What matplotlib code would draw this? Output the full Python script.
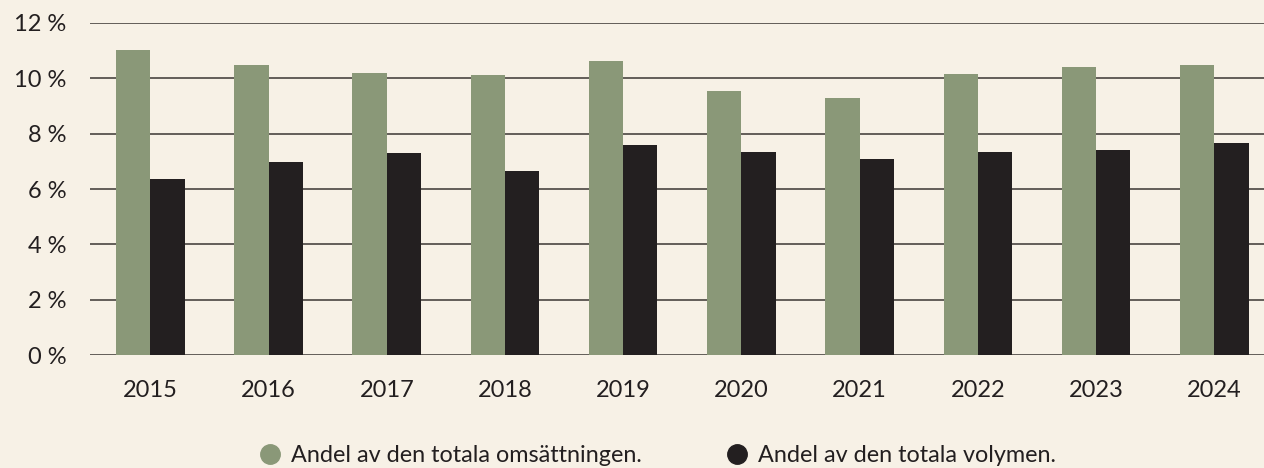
import matplotlib as mpl
mpl.use('Agg')

import numpy as np
import matplotlib.pyplot as plt
from matplotlib.lines import Line2D

# data
years = ['2015', '2016', '2017', '2018', '2019', '2020', '2021', '2022', '2023', '2024']
omsattning = [11.02, 10.48, 10.19, 10.12, 10.63, 9.54, 9.29, 10.16, 10.41, 10.48]
volym = [6.36, 6.98, 7.30, 6.65, 7.59, 7.34, 7.08, 7.34, 7.41, 7.66]
yticks = [0, 2, 4, 6, 8, 10, 12]
labels = ['Andel av den totala omsättningen.', 'Andel av den totala volymen.']

bg = '#f7f1e6'
green = '#8a9878'
black = '#231f20'
textcol = '#231f20'

plt.rcParams['font.family'] = ['Lato', 'DejaVu Sans']

fig = plt.figure(figsize=(12.64, 4.68), dpi=100, facecolor=bg)
ax = fig.add_axes([90 / 1264, 113 / 468, 1 - 90 / 1264, 332 / 468])
ax.set_facecolor(bg)

x = np.arange(len(years))
w = 0.29
ax.bar(x - w / 2, omsattning, w, color=green, zorder=3)
ax.bar(x + w / 2, volym, w, color=black, zorder=3)

ax.set_xlim(-0.51, 9.42)
ax.set_ylim(0, 12)
ax.set_yticks(yticks)
ax.set_yticklabels([str(t) + ' %' for t in yticks])
ax.set_xticks(x)
ax.set_xticklabels(years)

for t in yticks:
    ax.axhline(t, color='#3a3633', linewidth=1.1, zorder=1)

for s in ax.spines.values():
    s.set_visible(False)
ax.tick_params(axis='y', length=0, pad=17, labelsize=17, labelcolor=textcol)
ax.tick_params(axis='x', length=0, pad=18, labelsize=17, labelcolor=textcol)

handles = [Line2D([], [], marker='o', linestyle='', markersize=14, color=green),
           Line2D([], [], marker='o', linestyle='', markersize=14, color=black)]
fig.legend(handles, labels, loc='center', bbox_to_anchor=(0.52, 0.026),
           ncol=2, frameon=False, fontsize=16.8, handletextpad=0.4,
           columnspacing=3.6, handlelength=1.0, labelcolor=textcol)

fig.savefig('out.png', dpi=100, facecolor=bg)
plt.close()
